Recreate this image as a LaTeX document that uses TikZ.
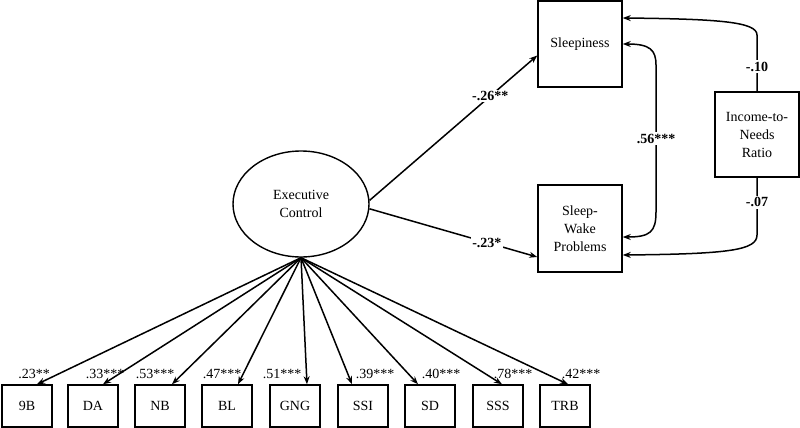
\documentclass[tikz,border=0pt]{standalone}
\usepackage{fontspec}
\setmainfont{Liberation Serif}
\usetikzlibrary{arrows.meta,shapes.geometric,calc}
\begin{document}
\begin{tikzpicture}[x=1pt,y=-1pt,
  txt/.style={font=\fontsize{14}{18}\selectfont},
  box/.style={draw,line width=1.5pt,inner sep=0pt,align=center,txt},
  ind/.style={box,minimum width=50pt,minimum height=42pt},
  arr/.style={line width=1.5pt,-{Stealth[length=8pt,width=6pt]}},
  darr/.style={line width=1.5pt,{Stealth[length=8pt,width=6pt]}-{Stealth[length=8pt,width=6pt]}},
  blab/.style={fill=white,inner sep=1.5pt,font=\fontsize{14}{18}\selectfont\bfseries},
  llab/.style={inner sep=0pt,txt}]
\useasboundingbox (0,0) rectangle (800,428);

\node[ellipse,draw,line width=1.4pt,minimum width=136pt,minimum height=106pt,inner sep=0pt,align=center,txt] (ec) at (301,204) {Executive\\Control};

\node[box,minimum width=84pt,minimum height=86pt] (slp) at (580,44) {Sleepiness};
\node[box,minimum width=84pt,minimum height=87pt] (swp) at (580,228.5) {Sleep-\\Wake\\Problems};
\node[box,minimum width=84pt,minimum height=85pt] (inc) at (757,134.5) {Income-to-\\Needs\\Ratio};

\node[ind] (b1) at (27,406) {9B};
\node[ind] (b2) at (93,406) {DA};
\node[ind] (b3) at (160,406) {NB};
\node[ind] (b4) at (227,406) {BL};
\node[ind] (b5) at (295,406) {GNG};
\node[ind] (b6) at (363,406) {SSI};
\node[ind] (b7) at (430,406) {SD};
\node[ind] (b8) at (498,406) {SSS};
\node[ind] (b9) at (565,406) {TRB};

\draw[arr] (ec.south) -- ([xshift=10pt]b1.north);
\draw[arr] (ec.south) -- ([xshift=10pt]b2.north);
\draw[arr] (ec.south) -- ([xshift=12pt]b3.north);
\draw[arr] (ec.south) -- ([xshift=11pt]b4.north);
\draw[arr] (ec.south) -- ([xshift=12pt]b5.north);
\draw[arr] (ec.south) -- ([xshift=-11pt]b6.north);
\draw[arr] (ec.south) -- ([xshift=-12pt]b7.north);
\draw[arr] (ec.south) -- ([xshift=4pt]b8.north);
\draw[arr] (ec.south) -- ([xshift=3pt]b9.north);

\node[llab] (l1) at (34,374) {.23**};
\node[llab] (l2) at (105,374) {.33***};
\node[llab] (l3) at (155,374) {.53***};
\node[llab] (l4) at (222,374) {.47***};
\node[llab] (l5) at (282,374) {.51***};
\node[llab] (l6) at (375,374) {.39***};
\node[llab] (l7) at (441,374) {.40***};
\node[llab] (l8) at (513,374) {.78***};
\node[llab] (l9) at (581,374) {.42***};

\draw[arr] (ec.3) -- node[blab,pos=0.72]{-.26**} ([yshift=-11.5pt]slp.west);
\draw[arr] (ec.-4) -- node[blab,pos=0.7]{-.23*} ([yshift=-28.5pt]swp.west);

\draw[arr] (inc.north) -- node[blab,pos=0.44]{-.10} (757,35) .. controls (757,22) and (720,19) .. ([yshift=26pt]slp.east);
\draw[arr] (inc.south) -- node[blab,pos=0.43]{-.07} (757,235) .. controls (757,250) and (730,254) .. ([yshift=-26.5pt]swp.east);
\draw[darr] (slp.east) .. controls (650,44) and (656,50) .. (656,65) -- node[blab]{.56***} (656,212) .. controls (656,232) and (650,237) .. ([yshift=-8.5pt]swp.east);
\end{tikzpicture}
\end{document}
